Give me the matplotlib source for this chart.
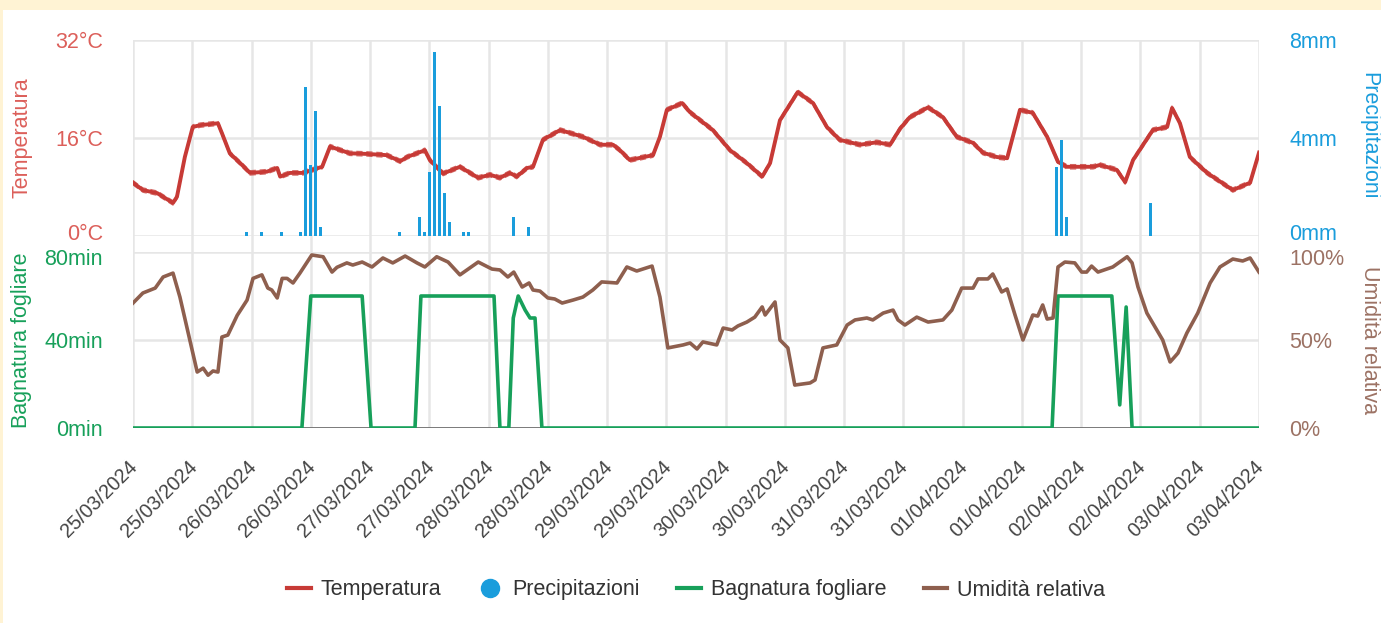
import matplotlib
matplotlib.use("Agg")
import matplotlib.pyplot as plt
from matplotlib.lines import Line2D
from matplotlib.transforms import ScaledTranslation
import numpy as np

plt.rcParams['font.family'] = ['Liberation Sans', 'DejaVu Sans']

# ---- data (hours since 25/03/2024 00:00) ----
temp_h = [0, 2, 4.9, 8.1, 8.9, 10.5, 12.1, 13.6, 17.2, 18.0, 19.6, 21.7, 23.7, 27.1, 29.2, 29.8,
          31.8, 34.4, 38.3, 39.9, 43.9, 47.4, 51.4, 54.1, 55.5, 59.1, 60.1, 62.8, 66.2, 69.9,
          72.3, 74.3, 76.3, 77.7, 79.8, 81.0, 83.0, 86.5, 91.1, 94.6, 97.2, 98.6, 100.6, 105.3,
          106.7, 108.1, 111.2, 112.8, 117.4, 120.9, 124.3, 127.4, 129.0, 131.0, 134.6, 137.7,
          140.5, 143.1, 147.2, 150.6, 153.3, 155.3, 157.3, 161.0, 164.0, 166.8, 170.1, 172.1,
          174.9, 177.0, 179.6, 182.2, 185.1, 187.3, 189.1, 194.4, 195.8, 199.2, 200.9, 202.5,
          206.5, 209.4, 210.4, 212.0, 214.0, 217.5, 222.7, 226.2, 228]
temp_v = [8.7, 7.5, 7.0, 5.4, 6.4, 12.9, 17.8, 18.1, 18.4, 16.8, 13.5, 11.9, 10.3, 10.5, 11.1, 9.7,
          10.3, 10.3, 11.3, 14.6, 13.5, 13.4, 13.2, 12.2, 12.9, 14.0, 12.4, 10.2, 11.3, 9.5,
          10.0, 9.5, 10.3, 9.7, 11.1, 11.3, 15.7, 17.3, 16.2, 14.9, 14.9, 14.0, 12.4, 13.2,
          16.2, 20.6, 21.7, 20.2, 17.3, 14.0, 11.9, 9.7, 11.9, 18.9, 23.5, 21.7,
          17.8, 15.7, 14.9, 15.3, 14.9, 17.5, 19.4, 21.0, 19.4, 16.2, 15.2, 13.6,
          12.9, 12.7, 20.6, 20.1, 16.2, 12.1, 11.3, 11.3, 11.6, 10.8, 8.8, 12.4,
          17.3, 17.8, 20.9, 18.4, 12.9, 10.3, 7.5, 8.7, 13.6]

rain_h = [23, 26, 30, 34, 35, 36, 37, 38, 54, 58, 59, 60, 61, 62, 63, 64, 67, 68, 77, 80,
          187, 188, 189, 206]
rain_v = [0.15, 0.15, 0.15, 0.15, 6.1, 2.9, 5.1, 0.35, 0.15, 0.78, 0.15, 2.6, 7.5, 5.3, 1.75,
          0.57, 0.15, 0.15, 0.78, 0.37, 2.8, 3.9, 0.78, 1.35]

leaf_h = [0, 34.2, 36.0, 46.4, 48.2, 57.1, 58.3, 73.1, 74.3, 76.1, 77.0, 78.0, 79.4, 80.4,
          81.4, 82.8, 186.1, 187.3, 198.2, 199.8, 201.1, 202.3, 228]
leaf_v = [0, 0, 60, 60, 0, 0, 60, 60, 0, 0, 50, 60, 53.6, 50, 50, 0, 0, 60, 60, 10.5, 55, 0, 0]

rh_h = [0, 2.0, 4.5, 6.1, 8.1, 9.5, 10.9, 13.0, 14.2, 15.2, 16.2, 17.2, 18.0, 19.2, 21.1, 23.1,
        24.3, 26.1, 27.3, 28.1, 29.2, 30.2, 31.2, 32.4, 33.8, 36.2, 38.5, 40.3, 41.3, 43.3,
        44.5, 46.4, 48.4, 50.6, 52.6, 55.1, 57.5, 59.1, 61.5, 63.8, 66.2, 69.9, 72.7, 74.3,
        75.9, 77.1, 78.8, 80.2, 81.0, 82.4, 84.0, 85.4, 86.9, 89.1, 91.1, 93.1, 94.9, 98.0,
        100.0, 102.0, 105.1, 106.7, 108.3, 111.4, 112.8, 114.2, 115.4, 118.2, 119.5, 121.3,
        122.5, 124.3, 125.9, 127.4, 128.0, 130.0, 131.0, 132.6, 134.0, 137.1, 138.1, 139.7,
        142.5, 144.6, 146.2, 148.6, 149.8, 151.9, 153.9, 154.9, 156.3, 158.7, 161.0, 164.0,
        165.8, 167.8, 170.1, 171.1, 173.1, 174.1, 175.9, 177.0, 178.6, 180.2, 182.2, 183.2,
        184.2, 185.1, 186.3, 187.3, 188.7, 190.7, 192.1, 193.1, 194.1, 195.4, 198.4, 199.8,
        201.3, 202.3, 203.5, 205.3, 207.3, 208.5, 210.0, 211.6, 213.4, 215.6, 218.1, 220.1,
        222.7, 224.7, 226.2, 228]
rh_v = [71, 76.7, 79.5, 85.8, 88, 74.4, 57.4, 31.8, 34, 30, 32.4, 31.8, 51.7, 52.8, 64, 72.7,
        85, 87, 79.5, 78.4, 73.9, 85, 85, 82.4, 88, 98.3, 97.3, 88.6, 91.3, 93.8,
        92.6, 94.3, 91.5, 96.6, 93.8, 97.7, 93.8, 91.5, 97.3, 94.3, 87, 94.3, 90.3, 89.8,
        85.8, 88.6, 80.1, 82.4, 78.4, 77.8, 73.9, 73.3, 71, 72.7, 74.4, 78.4, 83, 82.4,
        91.5, 89.2, 92, 74.4, 45.5, 47.2, 48.3, 44.9, 48.9, 47.2, 56.8, 55.7,
        58, 60.2, 63, 68.8, 64.2, 71.6, 50, 45.5, 24.4, 25.6, 27.3, 45.5,
        47.2, 58.5, 61.4, 62.5, 61.4, 65.3, 67, 61.4, 58.5, 63, 60.2, 61.4,
        67, 79.5, 79.5, 84.7, 84.7, 87.5, 77.3, 79, 64.2, 50, 64.2, 63.6,
        69.9, 61.9, 62.5, 91.5, 94.3, 93.8, 88.6, 88.6, 92, 88.6, 91.5, 94.3,
        97.3, 93.8, 80.1, 65.3, 55.7, 50, 37.5, 42.6, 54, 65.3, 82.4, 91.5,
        96, 94.9, 96.6, 88.6]

tick_hours = list(range(0, 229, 12))
tick_labels = ['25/03/2024', '25/03/2024', '26/03/2024', '26/03/2024', '27/03/2024',
               '27/03/2024', '28/03/2024', '28/03/2024', '29/03/2024', '29/03/2024',
               '30/03/2024', '30/03/2024', '31/03/2024', '31/03/2024', '01/04/2024',
               '01/04/2024', '02/04/2024', '02/04/2024', '03/04/2024', '03/04/2024']

temp_ticks = [0, 16, 32]
rain_ticks = [0, 4, 8]
leaf_ticks = [0, 40, 80]
rh_ticks = [0, 50, 100]

# ---- styling ----
C_TEMP = '#c73a36'
C_TEMP_T = '#dc5f5a'
C_RAIN = '#1a9ddc'
C_LEAF = '#17a05a'
C_RH = '#8e5f4e'
C_RH_T = '#9c7264'
C_GRID = '#e6e6e6'
FS = 15.5
PAD = 21.6

W, H = 1381, 623
fig = plt.figure(figsize=(W / 100, H / 100), dpi=100)
fig.patch.set_facecolor('#fff3d4')
fig.add_artist(plt.Rectangle((3 / W, 0), 1, 1 - 10 / H, transform=fig.transFigure,
                             facecolor='white', edgecolor='none', zorder=0))

L, R = 133, 1259
def fx(px):
    return px / W
def fy(py):
    return 1 - py / H
def px_shift(dx, dy):
    return ScaledTranslation(dx / 100, -dy / 100, fig.dpi_scale_trans)

bg = fig.add_axes([fx(L), fy(428), fx(R) - fx(L), fy(40) - fy(428)])
bg.set_xlim(0, 228)
bg.set_ylim(0, 1)
bg.axis('off')
for t in tick_hours:
    bg.axvline(t, color=C_GRID, lw=1.8, zorder=0)

ax1 = fig.add_axes([fx(L), fy(236), fx(R) - fx(L), fy(40) - fy(236)])
ax2 = fig.add_axes([fx(L), fy(428), fx(R) - fx(L), fy(252) - fy(428)])

for ax in (ax1, ax2):
    ax.set_facecolor('none')
    ax.set_xlim(0, 228)
    ax.set_xticks(tick_hours)
    for s in ax.spines.values():
        s.set_visible(False)
    ax.tick_params(length=0)

ax1.set_ylim(0, 32)
ax1.set_yticks(temp_ticks)
ax1.set_yticklabels([f'{v}°C' for v in temp_ticks], color=C_TEMP_T, fontsize=FS)
ax1.tick_params(axis='y', pad=PAD)
ax1.set_xticklabels([])
for v in temp_ticks:
    ax1.axhline(v, color=C_GRID, lw=1.8, zorder=0)
for dy in (-2.2, 2.2):
    ax1.plot(temp_h, temp_v, color=C_TEMP, lw=0.9, ls=(0, (5, 3)), alpha=0.75, zorder=3,
             transform=ax1.transData + px_shift(0, dy))
ax1.plot(temp_h, temp_v, color=C_TEMP, lw=2.8, zorder=3, solid_joinstyle='round')

ax1r = ax1.twinx()
ax1r.set_facecolor('none')
for s in ax1r.spines.values():
    s.set_visible(False)
ax1r.set_ylim(0, 8)
ax1r.set_yticks(rain_ticks)
ax1r.set_yticklabels([f'{v}mm' for v in rain_ticks], color=C_RAIN, fontsize=FS)
ax1r.tick_params(axis='y', length=0, pad=PAD)
ax1r.bar(rain_h, rain_v, width=0.6, color=C_RAIN, zorder=4)
ax1r.set_zorder(ax1.get_zorder() + 1)

ax2.set_ylim(0, 80)
ax2.set_yticks(leaf_ticks)
ax2.set_yticklabels([f'{v}min' for v in leaf_ticks], color=C_LEAF, fontsize=FS)
ax2.tick_params(axis='y', pad=PAD)
for v in leaf_ticks[1:]:
    ax2.axhline(v, color=C_GRID, lw=1.8, zorder=0)
ax2.axhline(0, color='#6e6e6e', lw=2, zorder=1)
ax2.plot(leaf_h, leaf_v, color=C_LEAF, lw=2.6, zorder=3, solid_joinstyle='round')
ax2.set_xticklabels(tick_labels, rotation=45, ha='right', va='top',
                    rotation_mode='anchor', color='#444444', fontsize=14.3)
ax2.tick_params(axis='x', pad=21)
for lab in ax2.get_xticklabels():
    lab.set_transform(lab.get_transform() + px_shift(-5, 0))

ax2r = ax2.twinx()
ax2r.set_facecolor('none')
for s in ax2r.spines.values():
    s.set_visible(False)
ax2r.set_ylim(0, 100)
ax2r.set_yticks(rh_ticks)
ax2r.set_yticklabels([f'{v}%' for v in rh_ticks], color=C_RH_T, fontsize=FS)
ax2r.tick_params(axis='y', length=0, pad=PAD)
ax2r.plot(rh_h, rh_v, color=C_RH, lw=2.6, zorder=3, solid_joinstyle='round')

# nudge the touching labels at the pane junction apart
for axis_obj in (ax1, ax1r):
    labs = axis_obj.get_yticklabels()
    labs[0].set_transform(labs[0].get_transform() + px_shift(0, -4))
for axis_obj in (ax2, ax2r):
    labs = axis_obj.get_yticklabels()
    labs[-1].set_transform(labs[-1].get_transform() + px_shift(0, 5))

fig.text(fx(22), fy(138), 'Temperatura', rotation=90, color=C_TEMP_T, fontsize=FS,
         ha='center', va='center')
fig.text(fx(22), fy(340), 'Bagnatura fogliare', rotation=90, color=C_LEAF, fontsize=FS,
         ha='center', va='center')
fig.text(fx(1369), fy(136), 'Precipitazioni', rotation=270, color=C_RAIN, fontsize=FS,
         ha='center', va='center')
fig.text(fx(1369), fy(340), 'Umidità relativa', rotation=270, color=C_RH_T, fontsize=FS,
         ha='center', va='center')

handles = [Line2D([], [], color=C_TEMP, lw=3),
           Line2D([], [], color=C_RAIN, marker='o', ls='none', markersize=13),
           Line2D([], [], color=C_LEAF, lw=3),
           Line2D([], [], color=C_RH, lw=3)]
labels = ['Temperatura', 'Precipitazioni', 'Bagnatura fogliare', 'Umidità relativa']
fig.legend(handles, labels, loc='center', bbox_to_anchor=(fx(696), fy(590)), ncol=4,
           frameon=False, fontsize=FS, labelcolor='#333333', handlelength=1.1,
           handletextpad=0.45, columnspacing=1.75)

fig.savefig('out.png', dpi=100, facecolor=fig.get_facecolor())
